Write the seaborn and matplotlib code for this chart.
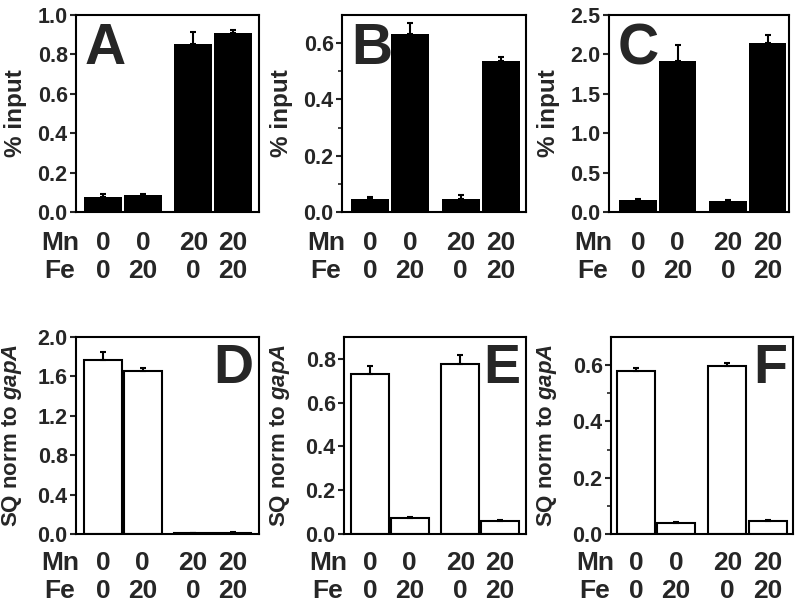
import numpy as np
import matplotlib
matplotlib.use("Agg")
import matplotlib.pyplot as plt
import matplotlib.transforms as mtrans
import seaborn as sns

sns.set_theme(style="white")
plt.rcParams["font.family"] = ["Liberation Sans", "DejaVu Sans"]
plt.rcParams["font.weight"] = "bold"
plt.rcParams["mathtext.fontset"] = "custom"
plt.rcParams["mathtext.it"] = "Liberation Sans:italic:bold"
plt.rcParams["mathtext.rm"] = "Liberation Sans:bold"

# conditions (Mn / Fe in uM)
mn = ["0", "0", "20", "20"]
fe = ["0", "20", "0", "20"]
xpos = [0, 1, 2.27, 3.27]

# top row: ChIP, % input
a_mean = [0.074, 0.086, 0.853, 0.909]
a_err = [0.017, 0.004, 0.061, 0.013]
b_mean = [0.047, 0.632, 0.047, 0.538]
b_err = [0.006, 0.040, 0.012, 0.013]
c_mean = [0.148, 1.916, 0.140, 2.149]
c_err = [0.017, 0.199, 0.008, 0.101]

# bottom row: SQ norm to gapA
d_mean = [1.764, 1.659, 0.007, 0.010]
d_err = [0.081, 0.027, 0.002, 0.007]
e_mean = [0.733, 0.072, 0.777, 0.061]
e_err = [0.035, 0.006, 0.041, 0.001]
f_mean = [0.579, 0.038, 0.598, 0.045]
f_err = [0.011, 0.004, 0.011, 0.006]

W, H = 800, 608
fig = plt.figure(figsize=(8, 6.08), dpi=100)

panels = [
    # letter, means, errs, fill, ymax, ystep, minor, box px (x0, x1, y0, y1), xlim
    ("A", a_mean, a_err, "black", 1.0, 0.2, False, (76, 259, 15, 212), (-0.68, 3.92)),
    ("B", b_mean, b_err, "black", 0.7, 0.2, True, (342, 526, 15, 212), (-0.70, 3.90)),
    ("C", c_mean, c_err, "black", 2.5, 0.5, False, (609, 789, 15, 212), (-0.73, 3.81)),
    ("D", d_mean, d_err, "white", 2.0, 0.4, False, (76, 259, 337, 534), (-0.69, 3.94)),
    ("E", e_mean, e_err, "white", 0.9, 0.2, False, (344, 526, 337, 534), (-0.65, 3.92)),
    ("F", f_mean, f_err, "white", 0.7, 0.2, True, (611, 793, 337, 534), (-0.62, 3.90)),
]

for letter, mean, err, fill, ymax, ystep, minor, (x0, x1, y0, y1), xlim in panels:
    ax = fig.add_axes([x0 / W, (H - y1) / H, (x1 - x0) / W, (y1 - y0) / H])
    sns.barplot(x=xpos, y=mean, native_scale=True, color=fill, saturation=1,
                width=0.95, edgecolor="black", linewidth=1.5 if fill == "white" else 0,
                errorbar=None, ax=ax)
    ax.errorbar(xpos, mean, yerr=[np.zeros(4), err], fmt="none", ecolor="black",
                elinewidth=1.5, capsize=2.5, capthick=1.5, zorder=1)
    ax.set_xlim(*xlim)
    ax.set_ylim(0, ymax)
    ax.set_yticks(np.arange(0, ymax + 1e-9, ystep))
    ax.yaxis.set_major_formatter(matplotlib.ticker.FormatStrFormatter("%.1f"))
    if minor:
        ax.set_yticks(np.arange(0.1, ymax, ystep), minor=True)
    ax.set_xticks([])
    ax.tick_params(axis="y", which="major", direction="out", length=4, width=1.5,
                   labelsize=15.5, pad=2, left=True)
    ax.tick_params(axis="y", which="minor", direction="out", length=3, width=1.2, left=True)
    for sp in ax.spines.values():
        sp.set_linewidth(1.5)
        sp.set_color("black")
    for lab in ax.get_yticklabels():
        lab.set_fontweight("bold")

    axw = x1 - x0
    top = letter in "ABC"
    if top:
        ax.set_ylabel("% input", fontsize=17.5, fontweight="bold")
        ax.yaxis.set_label_coords(-49 / axw, 0.5)
        ax.text(9 / axw, 0.75, letter, transform=ax.transAxes, fontsize=41,
                fontweight="bold", ha="left", va="baseline")
        rows = (-0.193, -0.335)
    else:
        ax.set_ylabel("SQ norm to $\\mathit{gapA}$", fontsize=16, fontweight="bold")
        ax.yaxis.set_label_coords(-52 / axw, 0.5)
        ax.text(0.97, 0.765, letter, transform=ax.transAxes, fontsize=40,
                fontweight="bold", ha="right", va="baseline")
        rows = (-0.183, -0.325)

    trans = mtrans.blended_transform_factory(ax.transData, ax.transAxes)
    for name, vals, yy in (("Mn", mn, rows[0]), ("Fe", fe, rows[1])):
        ax.text(-16 / axw, yy, name, transform=ax.transAxes, fontsize=19,
                fontweight="bold", ha="center", va="baseline")
        for xp, v in zip(xpos, vals):
            ax.text(xp, yy, v, transform=trans, fontsize=19, fontweight="bold",
                    ha="center", va="baseline")

fig.savefig("out.png", dpi=100)
